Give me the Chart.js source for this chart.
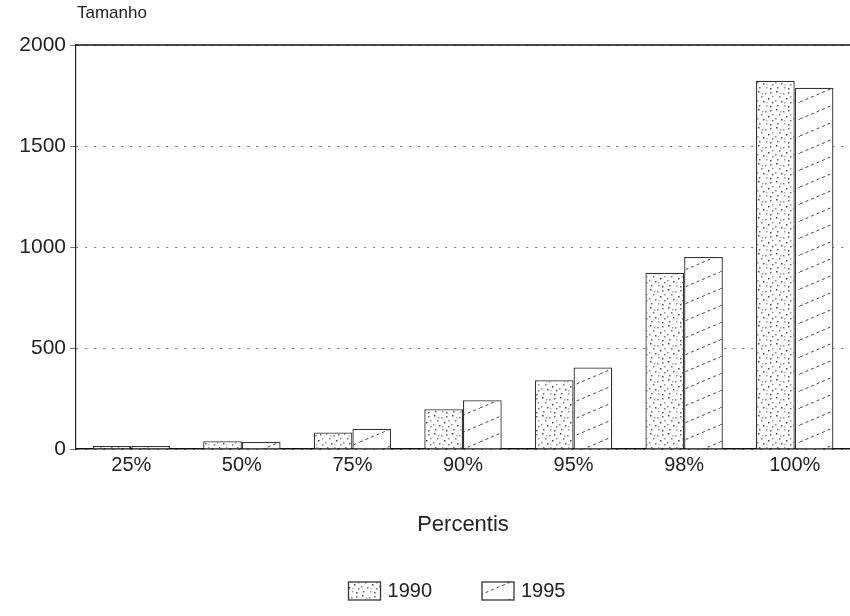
<!DOCTYPE html>
<html>
<head>
<meta charset="utf-8">
<script src="https://cdn.jsdelivr.net/npm/chart.js@4/dist/chart.umd.min.js"></script>
<style>
html,body{margin:0;padding:0;background:#fff;}
#wrap{width:850px;height:616px;}
</style>
</head>
<body>
<div id="wrap"><canvas id="c" width="850" height="616"></canvas></div>
<script>
const categories = ['25%', '50%', '75%', '90%', '95%', '98%', '100%'];
const values1990 = [15, 38, 82, 197, 340, 873, 1823];
const values1995 = [15, 35, 100, 241, 404, 951, 1788];
const seriesLabels = ['1990', '1995'];
const yTicks = [0, 500, 1000, 1500, 2000];
const yTitle = 'Tamanho';
const xTitle = 'Percentis';

const FONT = '"Liberation Sans", "DejaVu Sans", sans-serif';

function stipplePattern() {
  const c = document.createElement('canvas');
  c.width = 18; c.height = 18;
  const g = c.getContext('2d');
  g.fillStyle = '#fff'; g.fillRect(0, 0, 18, 18);
  const dots = [[2,1,'#444'],[9,3,'#888'],[14,2,'#666'],[5,6,'#777'],[12,8,'#444'],[1,10,'#888'],
                [7,11,'#555'],[16,12,'#777'],[3,15,'#666'],[10,15,'#999'],[14,16,'#555'],[6,3,'#aaa'],
                [16,6,'#999'],[10,12,'#bbb']];
  dots.forEach(d => { g.fillStyle = d[2]; g.fillRect(d[0], d[1], 1.5, 1.5); });
  return g.createPattern(c, 'repeat');
}
function hatchPattern() {
  const w = 40, h = 17;
  const c = document.createElement('canvas');
  c.width = w; c.height = h;
  const g = c.getContext('2d');
  g.fillStyle = '#fff'; g.fillRect(0, 0, w, h);
  g.strokeStyle = '#444'; g.lineWidth = 1;
  g.setLineDash([3, 3]);
  g.beginPath(); g.moveTo(0, h); g.lineTo(w, 0); g.stroke();
  return g.createPattern(c, 'repeat');
}

const decorPlugin = {
  id: 'decor',
  afterDraw(chart) {
    const {ctx, chartArea} = chart;
    const y = chart.scales.y.getPixelForValue(yTicks[yTicks.length - 1]);
    ctx.save();
    ctx.strokeStyle = '#111'; ctx.lineWidth = 1.5;
    ctx.beginPath(); ctx.moveTo(chartArea.left, y); ctx.lineTo(chart.width, y); ctx.stroke();
    ctx.fillStyle = '#222';
    ctx.font = '17px ' + FONT;
    ctx.textBaseline = 'middle'; ctx.textAlign = 'left';
    ctx.fillText(yTitle, chartArea.left + 1, 13);
    ctx.font = '20px ' + FONT;
    const boxW = 32, boxH = 18, gapText = 7, gapItem = 50;
    const items = chart.data.datasets.map(ds => ({ text: ds.label, fill: ds.backgroundColor, stroke: ds.borderColor, tw: ctx.measureText(ds.label).width }));
    const total = items.reduce((s, it) => s + boxW + gapText + it.tw, 0) + gapItem * (items.length - 1);
    let x = (chartArea.left + chartArea.right) / 2 - total / 2 - 6;
    const cy = 591;
    items.forEach(it => {
      ctx.fillStyle = it.fill; ctx.fillRect(x, cy - boxH / 2, boxW, boxH);
      ctx.strokeStyle = it.stroke; ctx.lineWidth = 1.3; ctx.strokeRect(x, cy - boxH / 2, boxW, boxH);
      x += boxW + gapText;
      ctx.fillStyle = '#222'; ctx.fillText(it.text, x, cy);
      x += it.tw + gapItem;
    });
    ctx.restore();
  }
};

new Chart(document.getElementById('c'), {
  type: 'bar',
  data: {
    labels: categories,
    datasets: [
      { label: seriesLabels[0], data: values1990, backgroundColor: stipplePattern(), borderColor: '#333', borderWidth: 1.3 },
      { label: seriesLabels[1], data: values1995, backgroundColor: hatchPattern(), borderColor: '#333', borderWidth: 1.3 }
    ]
  },
  options: {
    responsive: false,
    animation: false,
    devicePixelRatio: 1,
    categoryPercentage: 0.7,
    barPercentage: 1.0,
    layout: { padding: { left: 0, right: 0, top: 45, bottom: 71 } },
    plugins: {
      tooltip: { enabled: false },
      legend: { display: false }
    },
    scales: {
      x: {
        grid: { display: false, drawTicks: false },
        border: { display: true, color: '#111', width: 1.5 },
        ticks: { color: '#222', font: { family: FONT, size: 20 }, padding: 4 },
        title: { display: true, text: xTitle, color: '#222', font: { family: FONT, size: 22 }, padding: { top: 0, bottom: 7 } },
        afterFit(s) { s.height = 96; }
      },
      y: {
        min: 0, max: 2000,
        afterBuildTicks(s) { s.ticks = yTicks.map(v => ({ value: v })); },
        grid: { color: '#777', lineWidth: 1, drawTicks: true, tickLength: 6 },
        border: { display: true, color: '#222', width: 1.2, dash: [2, 7] },
        ticks: { color: '#222', font: { family: FONT, size: 21 }, padding: 4, callback: v => String(v) },
        afterFit(s) { s.width = 76; }
      }
    }
  },
  plugins: [decorPlugin]
});
</script>
</body>
</html>
